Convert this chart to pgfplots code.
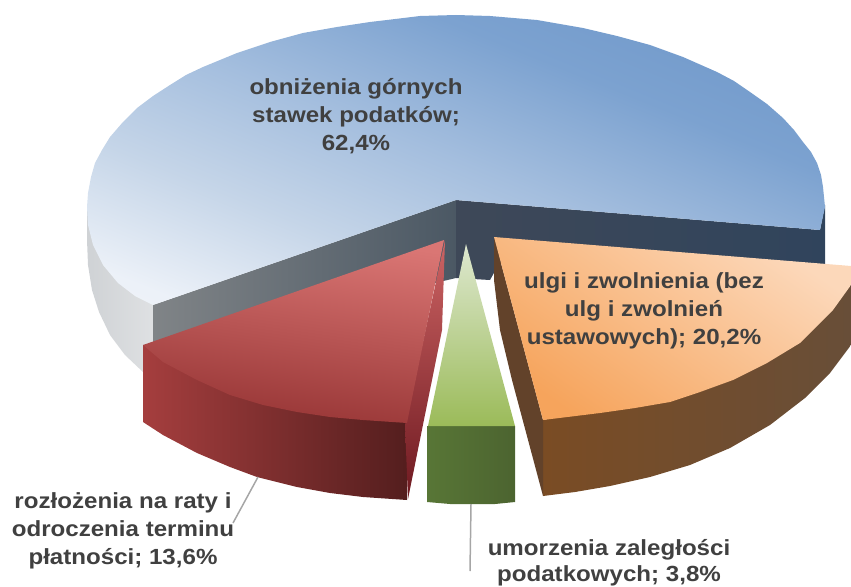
\documentclass[border=0pt]{standalone}
\usepackage{pgfplots}
\pgfplotsset{compat=1.18}
\usepackage{fontspec}
\setmainfont{Liberation Sans}
\definecolor{txt}{HTML}{404040}
\definecolor{gl}{RGB}{207,210,213}\definecolor{gr}{RGB}{224,226,228}
\definecolor{cl}{RGB}{128,132,135}\definecolor{cr}{RGB}{75,88,100}
\definecolor{nl}{RGB}{62,72,88}\definecolor{nr}{RGB}{48,68,92}
\definecolor{b0}{RGB}{248,250,252}\definecolor{b1}{RGB}{236,241,248}\definecolor{b2}{RGB}{197,213,232}
\definecolor{b3}{RGB}{164,190,222}\definecolor{b4}{RGB}{124,162,208}\definecolor{b5}{RGB}{92,136,192}
\pgfdeclareverticalshading{blueS}{100bp}{color(0bp)=(b0); color(22bp)=(b1); color(36bp)=(b2); color(50bp)=(b3); color(65bp)=(b4); color(100bp)=(b5)}
\definecolor{rwl}{RGB}{165,62,62}\definecolor{rwr}{RGB}{84,30,30}
\definecolor{rst}{RGB}{205,100,100}\definecolor{rsb}{RGB}{110,25,32}
\definecolor{rt}{RGB}{218,118,116}\definecolor{rb}{RGB}{150,52,52}
\definecolor{gwl}{RGB}{88,118,54}\definecolor{gwr}{RGB}{76,100,48}
\definecolor{gt}{RGB}{222,232,208}\definecolor{gb}{RGB}{155,187,89}
\definecolor{owl}{RGB}{122,76,36}\definecolor{owr}{RGB}{104,78,56}
\definecolor{os}{RGB}{98,66,42}
\definecolor{ot}{RGB}{252,216,186}\definecolor{ob}{RGB}{246,164,92}
\definecolor{ld}{RGB}{166,166,166}
\tikzset{lbl/.style={font=\fontsize{22}{28}\selectfont\bfseries, text=txt, align=center, inner sep=0pt, xscale=1.1}}
\begin{document}
\begin{tikzpicture}
\useasboundingbox (0,0) rectangle (851bp,587bp);
\begin{axis}[
  anchor=south west, at={(0,0)},
  hide axis, scale only axis, width=851bp, height=587bp,
  xmin=0, xmax=851, ymin=0, ymax=587, y dir=reverse, clip=true,
  every axis plot/.append style={no marks, draw=none, line width=0pt}
]
% grey outer wall
\addplot[left color=gl, right color=gr] coordinates {
(87,205)(87,240)(88,265)(92,290)(99,312)(110,335)(125,355)(143,372)(160,380)(160,300)(87,205)};
% cut faces
\addplot[left color=cl, right color=cr] coordinates {
(456,200)(456,278)(153,350)(153,305)(456,200)};
\addplot[left color=nl, right color=nr] coordinates {
(456,200)(820,230)(825,205)(825,264)(500,262)(490,280)(456,278)(456,200)};
% blue top
\addplot[shade, shading=blueS, shading angle=-22] coordinates {
(87,207)(88,193)(91,177)(95,163)(102,150)(110,137)(123,122)(137,108)(153,96)(170,85)(186,75)(203,67)(237,53)(270,42)(303,33)(337,27)(370,22)(387,20)(420,16)(456,15)(490,16)(537,20)(583,28)(617,36)(650,45)(683,57)(717,72)(734,81)(750,92)(767,104)(783,118)(794,130)(803,142)(811,152)(817,163)(821,175)(823,187)(825,207)(820,230)(456,200)(153,305)(135,296)(118,283)(103,265)(93,245)(88,225)(87,207)};
% red walls
\addplot[left color=rwl, right color=rwr] coordinates {
(143,345)(143,422)(163,435)(197,453)(230,467)(257,477)(297,487)(330,493)(363,497)(407,500)(407,420)(143,345)};
\addplot[top color=rst, bottom color=rsb] coordinates {
(445,240)(442,330)(432,380)(408,499)(405,425)(445,240)};
\addplot[top color=rt, bottom color=rb, shading angle=-8] coordinates {
(444,240)(407,423)(363,420)(330,417)(297,412)(263,405)(230,395)(197,380)(163,362)(143,345)(444,240)};
% green
\addplot[left color=gwl, right color=gwr] coordinates {
(427,426)(427,502)(450,504)(471,504)(495,504)(515,502)(515,426)(427,426)};
\addplot[top color=gt, bottom color=gb] coordinates {
(466,244)(515,426)(428,426)(466,244)};
% orange walls
\addplot[left color=owl, right color=owr] coordinates {
(543,420)(543,496)(575,492)(610,486)(650,477)(690,465)(730,448)(770,425)(805,398)(830,373)(851,345)(851,285)(700,390)(543,420)};
\addplot[fill=os] coordinates {
(494,237)(494,280)(500,330)(512,380)(543,496)(543,420)(494,237)};
\addplot[top color=ot, bottom color=ob, shading angle=-35] coordinates {
(494,237)(851,266)(851,285)(833,310)(800,343)(767,363)(733,380)(700,392)(670,402)(635,408)(600,413)(543,420)(494,237)};
% leader lines
\addplot[draw=ld, line width=1.5pt] coordinates {(258,477)(233,523)};
\addplot[draw=ld, line width=1.5pt] coordinates {(471,504)(470,571)};
% labels
\node[lbl] at (axis cs:356,116) {obniżenia górnych\\stawek podatków;\\62,4\%};
\node[lbl] at (axis cs:644,311) {ulgi i zwolnienia (bez\\ulg i zwolnień\\ustawowych); 20,2\%};
\node[lbl] at (axis cs:123,531) {rozłożenia na raty i\\odroczenia terminu\\płatności; 13,6\%};
\node[font=\fontsize{22}{26}\selectfont\bfseries, text=txt, align=center, inner sep=0pt, xscale=1.1] at (axis cs:609,563) {umorzenia zaległości\\podatkowych; 3,8\%};
\end{axis}
\end{tikzpicture}
\end{document}
